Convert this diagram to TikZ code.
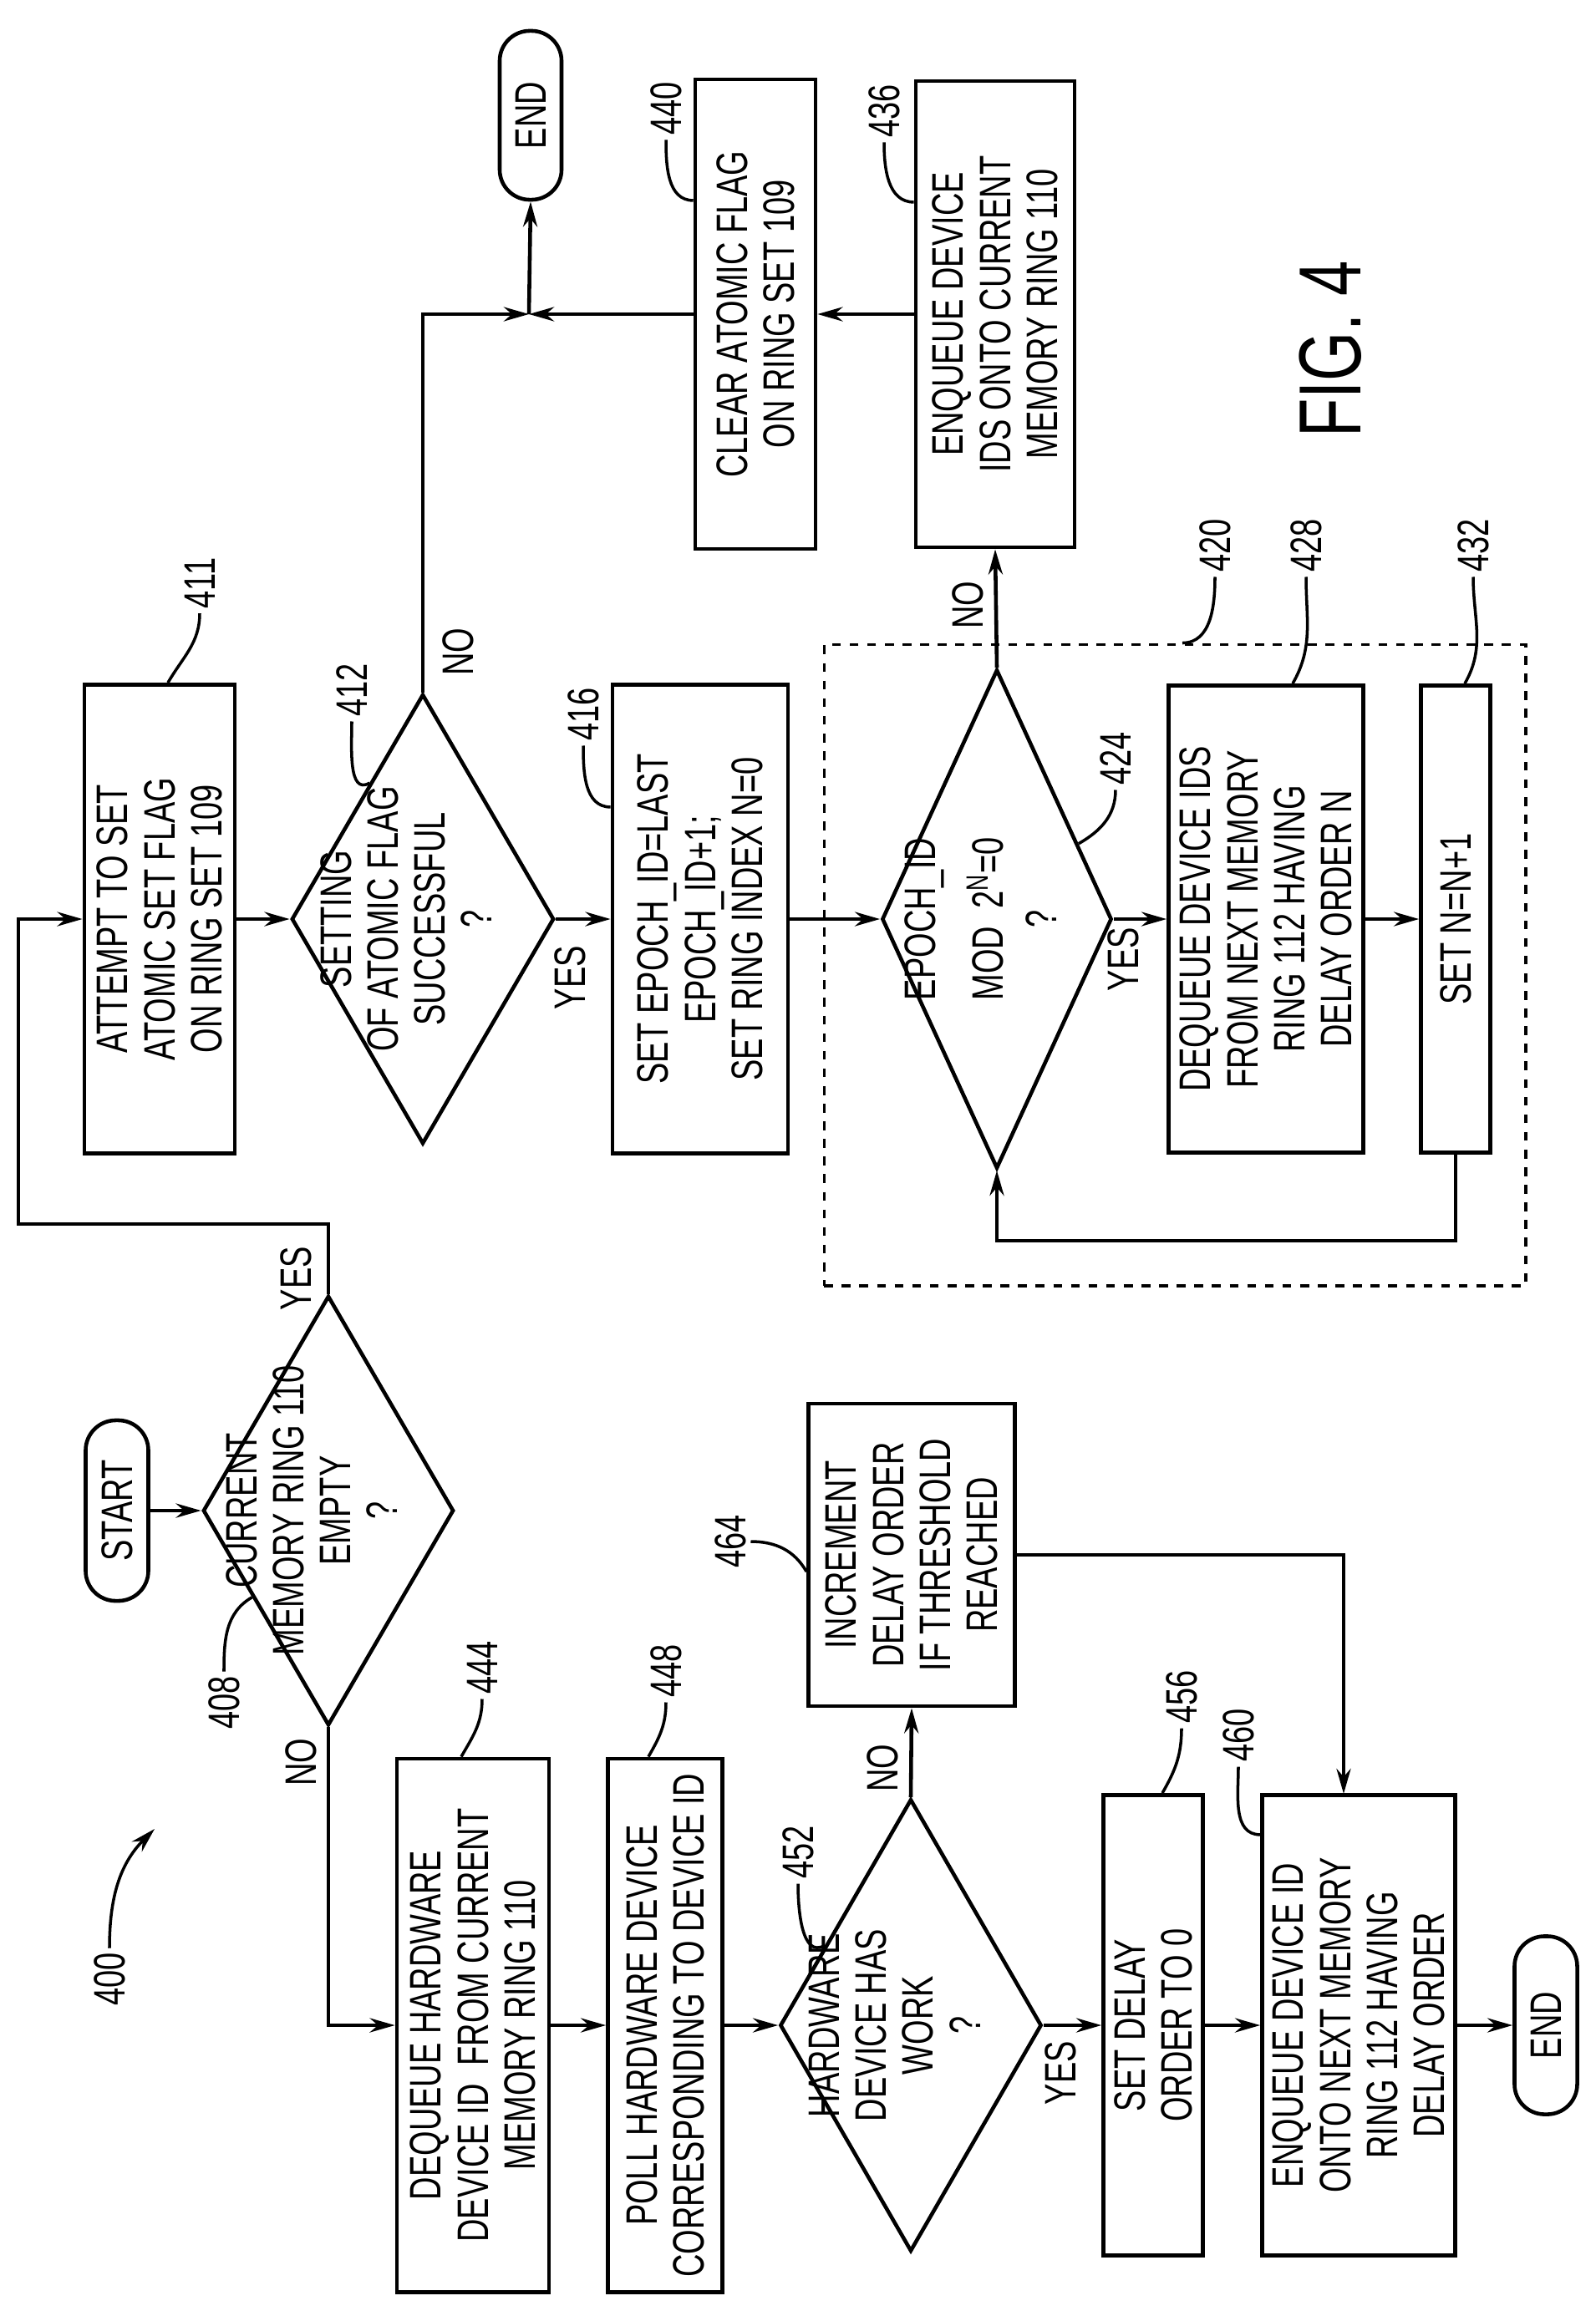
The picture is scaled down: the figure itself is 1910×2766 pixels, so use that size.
\documentclass[tikz,border=0pt]{standalone}
\usepackage{fontspec}
\setmainfont[FakeStretch=0.72]{Liberation Sans}
\usepackage{tikz}
\usetikzlibrary{shapes.geometric,arrows.meta,calc}
\newcommand{\dtext}[1]{\makebox[0pt]{\smash{\begin{tabular}{@{}c@{}}#1\end{tabular}}}}

\begin{document}
\begin{tikzpicture}
    [x=0.01cm,y=-0.01cm,line width=1.3pt,
     >={Stealth[length=3mm,width=1.7mm]},
     every node/.style={font=\fontsize{15}{16}\selectfont},
     box/.style={rectangle,draw,rotate=90,align=center,inner sep=0pt},
     dia/.style={diamond,draw,rotate=90,inner sep=0pt,aspect=1},
     term/.style={rectangle,draw,rotate=90,rounded corners=3.6mm,inner sep=0pt},
     lbl/.style={rotate=90,inner sep=1pt}]
    \useasboundingbox (0,0) rectangle (1910,2766);

    % left column
    \node[term,minimum width=2.16cm,minimum height=0.75cm] (start) at (140,1808) {START};
    \node[dia,minimum width=5.14cm,minimum height=3.0cm] (d408) at (393,1808)
      {\dtext{CURRENT\\MEMORY RING 110\\EMPTY\\?}};
    \node[box,minimum width=6.38cm,minimum height=1.82cm] (b444) at (566,2424)
      {DEQUEUE HARDWARE\\DEVICE ID\ \ FROM CURRENT\\MEMORY RING 110};
    \node[box,minimum width=6.38cm,minimum height=1.37cm] (b448) at (796,2424)
      {POLL HARDWARE DEVICE\\CORRESPONDING TO DEVICE ID};
    \node[dia,minimum width=5.41cm,minimum height=3.13cm] (d452) at (1090,2424)
      {\dtext{HARDWARE\\DEVICE HAS\\WORK\\?}};
    \node[box,minimum width=3.62cm,minimum height=2.47cm] (b464) at (1091,1861)
      {INCREMENT\\DELAY ORDER\\IF THRESHOLD\\REACHED};
    \node[box,minimum width=5.51cm,minimum height=1.19cm] (b456) at (1380,2424)
      {SET DELAY\\ORDER TO 0};
    \node[box,minimum width=5.51cm,minimum height=2.31cm] (b460) at (1626,2424)
      {ENQUEUE DEVICE ID\\ONTO NEXT MEMORY\\RING 112 HAVING\\DELAY ORDER};
    \node[term,minimum width=2.13cm,minimum height=0.75cm] (end2) at (1850,2424) {END};

    % right part
    \node[box,minimum width=5.61cm,minimum height=1.8cm] (b411) at (191,1100)
      {ATTEMPT TO SET\\ATOMIC SET FLAG\\ON RING SET 109};
    \node[dia,minimum width=5.38cm,minimum height=3.14cm] (d412) at (506,1100)
      {\dtext{SETTING\\OF ATOMIC FLAG\\SUCCESSFUL\\?}};
    \node[box,minimum width=5.61cm,minimum height=2.1cm] (b416) at (838,1100)
      {SET EPOCH\_ID=LAST\\EPOCH\_ID+1;\\SET RING INDEX N=0};
    \node[draw,dashed,minimum width=8.39cm,minimum height=7.67cm,line width=1pt] (g420) at (1406,1155) {};
    \node[dia,minimum width=5.97cm,minimum height=2.75cm] (d424) at (1193,1100)
      {\dtext{EPOCH\_ID\\[6pt]MOD\ \ 2\textsuperscript{N}=0\\[2pt]?}};
    \node[box,minimum width=5.59cm,minimum height=2.33cm] (b428) at (1515,1100)
      {DEQUEUE DEVICE IDS\\FROM NEXT MEMORY\\RING 112 HAVING\\DELAY ORDER N};
    \node[box,minimum width=5.59cm,minimum height=0.83cm] (b432) at (1742,1100) {SET N=N+1};
    \node[box,minimum width=5.58cm,minimum height=1.9cm] (b436) at (1191,376)
      {ENQUEUE DEVICE\\IDS ONTO CURRENT\\MEMORY RING 110};
    \node[box,minimum width=5.62cm,minimum height=1.44cm] (b440) at (904,376)
      {CLEAR ATOMIC FLAG\\ON RING SET 109};
    \node[term,minimum width=2.02cm,minimum height=0.74cm] (end1) at (635,138) {END};
    \coordinate (join) at (633,376);
    \coordinate (loop) at (22,1465);
    \coordinate (j460) at (1608,2147);

    % connectors
    \draw[->] (start.south) -- (d408.north);
    \draw[->] (d408.east) |- (loop) |- (b411.north);
    \draw[->] (d408.west) |- (b444.north);
    \draw[->] (b444.south) -- (b448.north);
    \draw[->] (b448.south) -- (d452.north);
    \draw[->] (d452.south) -- (b456.north);
    \draw[->] (d452.east) -- (b464.west);
    \draw[->] (b456.south) -- (b460.north);
    \draw[->] (b464.south) -| (j460);
    \draw[->] (b460.south) -- (end2.north);
    \draw[->] (b411.south) -- (d412.north);
    \draw[->] (d412.south) -- (b416.north);
    \draw[->] (b416.south) -- (d424.north);
    \draw[->] (d424.south) -- (b428.north);
    \draw[->] (b428.south) -- (b432.north);
    \draw[->] (b432.west) -- ++(0,103) -| (d424.west);
    \draw[->] (d424.east) -- (b436.west);
    \draw[->] (b436.north) -- (b440.south);
    \draw[->] (d412.east) |- (join);
    \draw[->] (b440.north) -- (join);
    \draw[->] (join) -- (end1.west);

    % yes / no
    \node[lbl] at (354,1530) {YES};
    \node[lbl] at (360,2109) {NO};
    \node[lbl] at (682,1170) {YES};
    \node[lbl] at (548,780) {NO};
    \node[lbl] at (1344,1148) {YES};
    \node[lbl] at (1158,724) {NO};
    \node[lbl] at (1269,2481) {YES};
    \node[lbl] at (1056,2116) {NO};

    % reference numerals
    \node[lbl] (l400) at (131,2369) {400};
    \coordinate (a400) at (185,2189);
    \draw[->,line width=1pt] (l400.east) to[out=90,in=225] (a400);
    \node[lbl] (l408) at (268,2038) {408};
    \draw[line width=1pt] (l408.east) to[out=90,in=210] ($(d408.north)!0.4!(d408.west)$);
    \node[lbl] (l444) at (577,1996) {444};
    \draw[line width=1pt] (l444.west) to[out=-90,in=60] ([xshift=-0.14cm]b444.east);
    \node[lbl] (l448) at (797,2000) {448};
    \draw[line width=1pt] (l448.west) to[out=-90,in=60] ([xshift=-0.2cm]b448.east);
    \node[lbl] (l452) at (955,2217) {452};
    \draw[line width=1pt] (l452.west) to[out=-90,in=210] ($(d452.north)!0.35!(d452.east)$);
    \node[lbl] (l464) at (874,1845) {464};
    \draw[line width=1pt] (l464.south) to[out=0,in=120] ([yshift=-0.2cm]b464.north);
    \node[lbl] (l456) at (1414,2031) {456};
    \draw[line width=1pt] (l456.west) to[out=-90,in=60] ([xshift=0.11cm]b456.east);
    \node[lbl] (l460) at (1482,2077) {460};
    \draw[line width=1pt] (l460.west) to[out=-90,in=180] ([yshift=2.28cm]b460.north);
    \node[lbl] (l411) at (239,698) {411};
    \draw[line width=1pt] (l411.west) to[out=-90,in=60] ([xshift=0.1cm]b411.east);
    \node[lbl] (l412) at (421,826) {412};
    \draw[line width=1pt] (l412.west) to[out=-90,in=210] ($(d412.north)!0.6!(d412.east)$);
    \node[lbl] (l416) at (698,855) {416};
    \draw[line width=1pt] (l416.west) to[out=-90,in=180] ([yshift=1.34cm]b416.north);
    \node[lbl] (l424) at (1335,908) {424};
    \draw[line width=1pt] (l424.west) to[out=-90,in=30] ($(d424.south)!0.3!(d424.east)$);
    \node[lbl] (l420) at (1454,653) {420};
    \draw[line width=1pt] (l420.west) to[out=-90,in=0] ([xshift=0.09cm]g420.north);
    \node[lbl] (l428) at (1563,653) {428};
    \draw[line width=1pt] (l428.west) to[out=-90,in=60] ([xshift=0.32cm]b428.east);
    \node[lbl] (l432) at (1763,653) {432};
    \draw[line width=1pt] (l432.west) to[out=-90,in=60] ([xshift=0.11cm]b432.east);
    \node[lbl] (l436) at (1058,133) {436};
    \draw[line width=1pt] (l436.west) to[out=-90,in=180] ([yshift=1.34cm]b436.north);
    \node[lbl] (l440) at (797,130) {440};
    \draw[line width=1pt] (l440.west) to[out=-90,in=180] ([yshift=1.36cm]b440.north);
    \node[rotate=90,font=\fontsize{30}{32}\selectfont] (fig) at (1592,418) {FIG. 4};
\end{tikzpicture}
\end{document}
